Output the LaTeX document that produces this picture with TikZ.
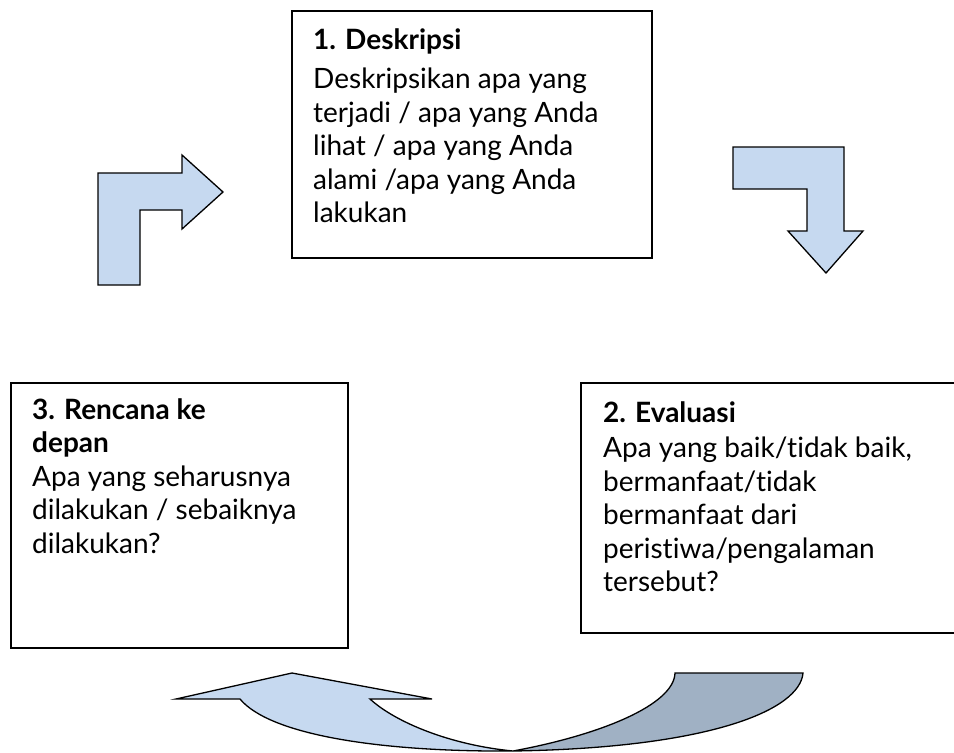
\documentclass[tikz,border=0pt]{standalone}
\usepackage{fontspec}
\setmainfont{Lato}[Ligatures=NoCommon]
\usepackage{xcolor}
\definecolor{ColFront}{RGB}{198,217,240}
\definecolor{ColBack}{RGB}{160,177,196}
\usetikzlibrary{positioning}
\tikzstyle{Box}=[draw,line width=1.4pt,outer sep=0pt,inner sep=0pt,
anchor=north west]
\tikzstyle{BoxText}=[align=left,inner sep=0pt,
font={\fontsize{28}{33.5}\selectfont}]
\tikzstyle{Arrow}=[draw,fill=ColFront,line width=1.3pt,line join=miter]
\tikzstyle{ArrowBack}=[draw,fill=ColBack,line width=1.3pt]

\begin{document}
\begin{tikzpicture}[x=1pt,y=-1pt]
        \useasboundingbox(0,0)rectangle(954,753);
        \clip(0,0)rectangle(954,753);
        \node[Box,minimum width=360pt,minimum height=247pt](1)at(292,11){};
        \node[Box,minimum width=400pt,minimum height=250pt](2)at(581,383){};
        \node[Box,minimum width=337pt,minimum height=265pt](3)at(11,383){};
        \node[BoxText,below right=17pt and 21pt of 1.north west](t1)
            {\textbf{1. Deskripsi}\\[6pt]Deskripsikan apa yang\\
            terjadi / apa yang Anda\\lihat / apa yang Anda\\
            alami /apa yang Anda\\lakukan};
        \node[BoxText,below right=18pt and 22pt of 2.north west](t2)
            {\textbf{2. Evaluasi}\\[2pt]Apa yang baik/tidak baik,\\
            bermanfaat/tidak\\bermanfaat dari\\
            peristiwa/pengalaman\\tersebut?};
        \node[BoxText,below right=15pt and 21pt of 3.north west](t3)
            {\textbf{3. Rencana ke}\\\textbf{depan}\\
            Apa yang seharusnya\\dilakukan / sebaiknya\\dilakukan?};
        % bent arrows
        \draw[Arrow](98,285)--(98,173)--(182,173)--(182,155)--(223,192)
            --(182,229)--(182,210)--(140,210)--(140,285)--cycle;
        \draw[Arrow](733,147)--(844,147)--(844,231)--(863,231)--(826,273)
            --(788,231)--(807,231)--(807,189)--(733,189)--cycle;
        % curved arrow
        \draw[ArrowBack](675,673)--(803,673)
            ..controls(800,710)and(710,748)..(513,751)
            ..controls(600,735)and(674,705)..(675,673)--cycle;
        \draw[Arrow](240,699)..controls(270,735)and(380,752)..(513,751)
            ..controls(450,745)and(395,722)..(370,699)
            --(432,699)--(292,673)--(176,699)--cycle;
    \end{tikzpicture}
\end{document}
